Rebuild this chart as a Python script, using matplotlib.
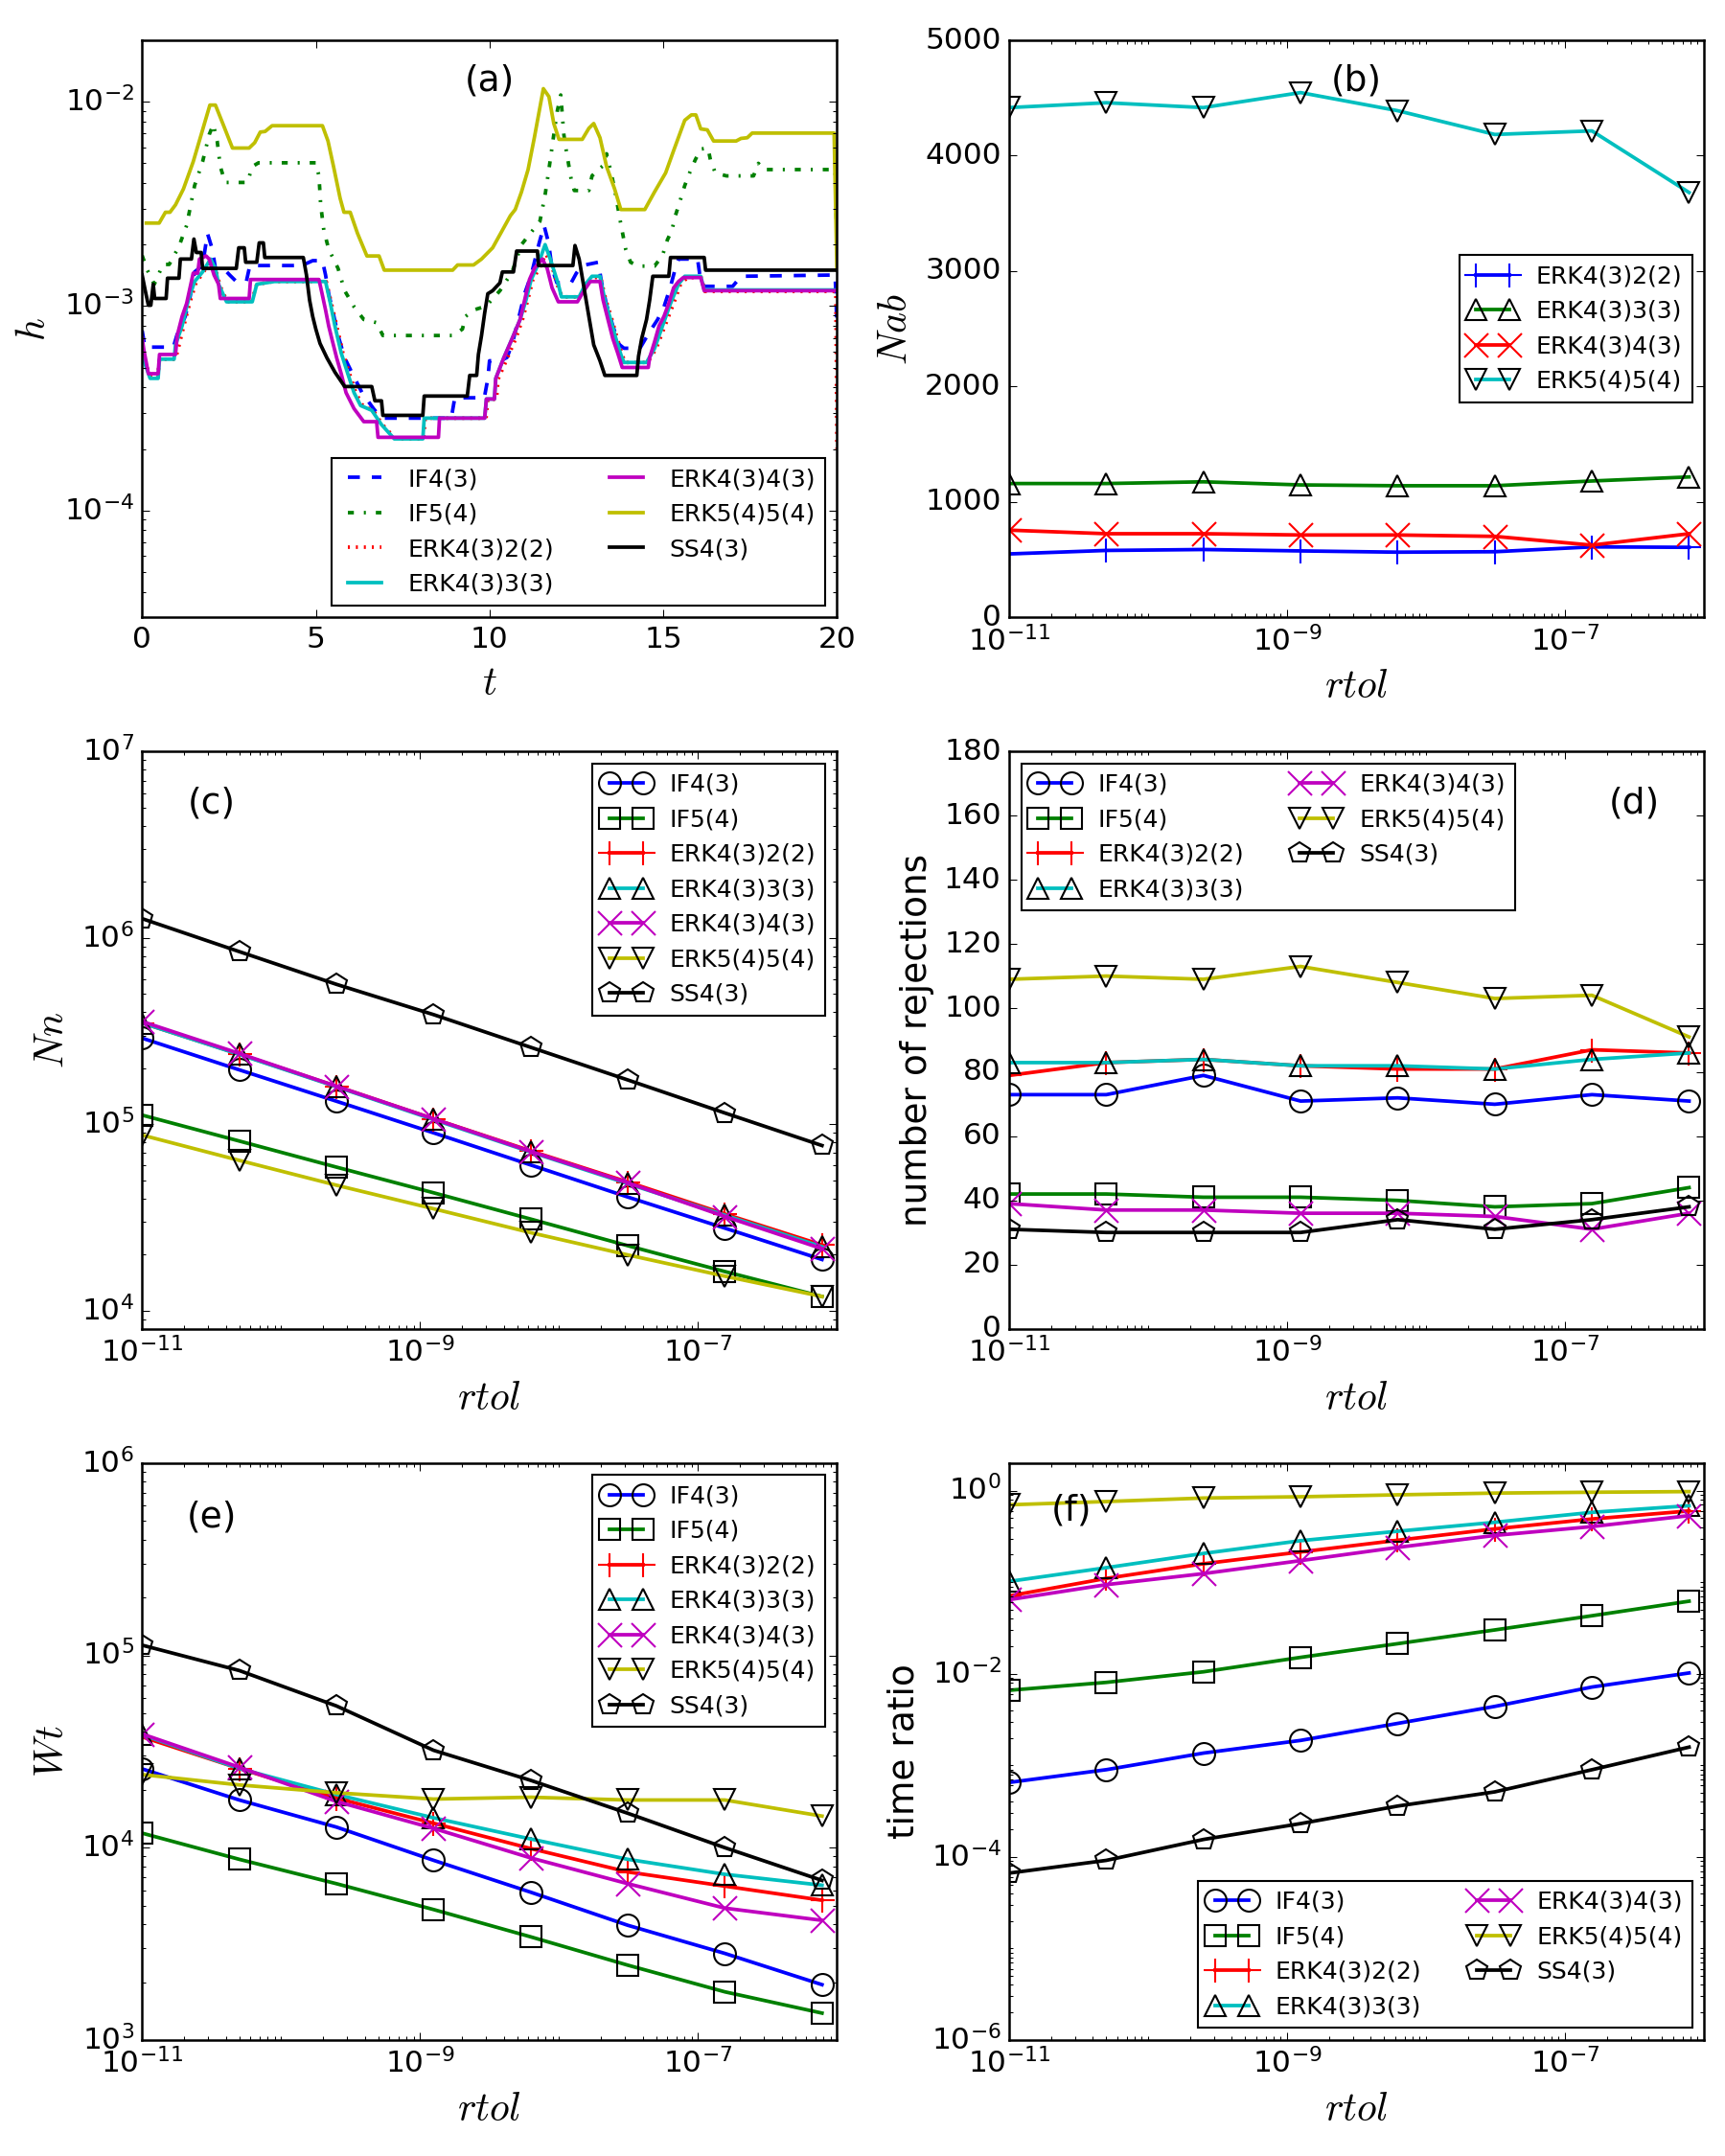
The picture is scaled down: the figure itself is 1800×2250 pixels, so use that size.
import numpy as np
import matplotlib
matplotlib.use('Agg')
import matplotlib.pyplot as plt
from matplotlib.ticker import LogLocator, FixedLocator, NullFormatter

plt.style.use('classic')
plt.rcParams['figure.facecolor'] = 'white'
plt.rcParams['savefig.facecolor'] = 'white'
plt.rcParams['font.family'] = ['DejaVu Sans']
plt.rcParams['mathtext.fontset'] = 'cm'

# ---- panel (a): step size history h(t) ----
a_if4 = [(0.0, 7.6e-4), (0.08, 6.3e-4), (0.9, 6.3e-4), (1.0, 7.2e-4), (1.24, 8.9e-4), (1.38, 1.11e-3),
         (1.51, 1.47e-3), (1.74, 1.58e-3), (1.88, 2.27e-3), (2.02, 1.90e-3), (2.11, 1.53e-3), (2.34, 1.53e-3),
         (2.52, 1.42e-3), (2.71, 1.32e-3), (3.0, 1.32e-3), (3.1, 1.58e-3), (4.6, 1.58e-3), (4.91, 1.67e-3),
         (5.19, 1.67e-3), (5.28, 1.42e-3), (5.37, 1.15e-3), (5.5, 9.25e-4), (5.64, 7.18e-4), (5.83, 5.58e-4),
         (6.1, 4.5e-4), (6.33, 3.77e-4), (6.66, 3.15e-4), (6.89, 2.83e-4), (8.9, 2.83e-4), (9.0, 3.56e-4),
         (9.85, 3.56e-4), (9.95, 4.4e-4), (10.0, 5.4e-4), (10.3, 5.4e-4), (10.5, 5.6e-4), (10.65, 6.5e-4),
         (10.83, 8.6e-4), (11.01, 1.15e-3), (11.2, 1.42e-3), (11.43, 2.04e-3), (11.57, 2.48e-3), (11.7, 2.04e-3),
         (11.8, 1.53e-3), (11.94, 1.3e-3), (12.35, 1.3e-3), (12.5, 1.45e-3), (12.67, 1.58e-3), (13.13, 1.64e-3),
         (13.22, 1.32e-3), (13.36, 1.03e-3), (13.55, 8.0e-4), (13.73, 6.5e-4), (13.87, 6.22e-4), (14.33, 6.22e-4),
         (14.6, 7.45e-4), (14.84, 8.6e-4), (15.02, 9.9e-4), (15.2, 1.23e-3), (15.35, 1.53e-3), (15.44, 1.7e-3),
         (15.99, 1.7e-3), (16.08, 1.32e-3), (16.18, 1.25e-3), (17.0, 1.25e-3), (17.24, 1.40e-3), (19.95, 1.42e-3),
         (20.0, 8e-4)]
a_if5 = [(0.0, 1.77e-3), (0.15, 1.5e-3), (0.35, 1.28e-3), (0.6, 1.60e-3), (0.78, 1.60e-3), (1.06, 1.96e-3),
         (1.28, 2.48e-3), (1.51, 3.89e-3), (1.74, 5.09e-3), (1.93, 6.91e-3), (2.05, 7.75e-3), (2.16, 6.43e-3),
         (2.25, 4.82e-3), (2.39, 4.03e-3), (3.03, 4.03e-3), (3.17, 4.82e-3), (3.35, 5.03e-3), (5.0, 5.03e-3),
         (5.09, 4.34e-3), (5.14, 3.13e-3), (5.23, 2.35e-3), (5.37, 1.90e-3), (5.64, 1.53e-3), (5.83, 1.19e-3),
         (6.1, 9.93e-4), (6.38, 8.6e-4), (6.75, 8.3e-4), (6.93, 7.18e-4), (8.95, 7.18e-4), (9.22, 7.72e-4),
         (9.31, 8.9e-4), (9.54, 9.57e-4), (9.9, 1.0e-3), (10.3, 1.19e-3), (10.65, 1.47e-3), (10.92, 2.0e-3),
         (11.2, 2.3e-3), (11.45, 2.6e-3), (11.6, 3.5e-3), (11.72, 4.8e-3), (11.85, 6.9e-3), (11.95, 9.0e-3),
         (12.05, 1.08e-2), (12.14, 6.91e-3), (12.21, 5.77e-3), (12.35, 4.18e-3), (12.44, 3.68e-3), (12.86, 3.68e-3),
         (12.95, 4.34e-3), (13.15, 4.69e-3), (13.3, 4.91e-3), (13.37, 5.57e-3), (13.5, 4.5e-3), (13.6, 3.75e-3),
         (13.78, 2.52e-3), (13.92, 1.90e-3), (14.06, 1.64e-3), (14.29, 1.57e-3), (14.75, 1.57e-3), (14.98, 1.77e-3),
         (15.12, 2.11e-3), (15.25, 2.35e-3), (15.35, 2.77e-3), (15.48, 3.25e-3), (15.62, 3.89e-3), (15.76, 4.49e-3),
         (15.92, 5.19e-3), (16.08, 5.87e-3), (16.29, 5.94e-3), (16.36, 5.19e-3), (16.5, 4.49e-3), (16.82, 4.34e-3),
         (17.6, 4.34e-3), (17.74, 5.0e-3), (17.88, 4.66e-3), (19.95, 4.66e-3), (20.0, 2.0e-3)]
a_erk22 = [(0.0, 6.5e-4), (0.1, 5.2e-4), (0.25, 4.5e-4), (0.45, 4.5e-4), (0.5, 5.5e-4), (0.96, 5.5e-4),
           (1.05, 6.3e-4), (1.2, 8.0e-4), (1.38, 1.05e-3), (1.55, 1.3e-3), (1.75, 1.45e-3), (1.95, 1.65e-3),
           (2.12, 1.5e-3), (2.25, 1.25e-3), (2.45, 1.05e-3), (3.15, 1.05e-3), (3.3, 1.28e-3), (3.8, 1.32e-3),
           (5.3, 1.32e-3), (5.45, 1.03e-3), (5.6, 8e-4), (5.78, 5.9e-4), (5.97, 4.67e-4), (6.15, 3.77e-4),
           (6.35, 3.26e-4), (6.65, 3.09e-4), (6.92, 2.63e-4), (7.3, 2.24e-4), (8.1, 2.24e-4), (8.15, 2.83e-4),
           (9.9, 2.83e-4), (9.95, 3.5e-4), (10.2, 3.5e-4), (10.25, 4.4e-4), (10.5, 5.5e-4), (10.75, 6.9e-4),
           (10.95, 8.6e-4), (11.1, 1.07e-3), (11.25, 1.35e-3), (11.45, 1.55e-3), (11.62, 1.8e-3), (11.78, 1.6e-3),
           (12.0, 1.2e-3), (12.1, 1.11e-3), (12.6, 1.11e-3), (12.8, 1.28e-3), (12.95, 1.38e-3), (13.2, 1.38e-3),
           (13.35, 1.07e-3), (13.5, 8.9e-4), (13.68, 6.93e-4), (13.82, 5.8e-4), (13.9, 5.3e-4), (14.55, 5.3e-4),
           (14.8, 6.2e-4), (15.05, 8e-4), (15.3, 1.03e-3), (15.5, 1.28e-3), (15.7, 1.38e-3), (16.1, 1.38e-3),
           (16.2, 1.18e-3), (19.97, 1.18e-3), (20.0, 2.0e-4)]
a_erk33 = [(0.0, 6.0e-4), (0.05, 5.4e-4), (0.23, 4.43e-4), (0.46, 4.43e-4), (0.5, 5.5e-4), (0.92, 5.5e-4),
           (0.96, 6.46e-4), (1.15, 8.0e-4), (1.33, 1.07e-3), (1.51, 1.32e-3), (1.74, 1.47e-3), (1.97, 1.7e-3),
           (2.11, 1.53e-3), (2.2, 1.28e-3), (2.43, 1.05e-3), (3.17, 1.05e-3), (3.3, 1.28e-3), (3.81, 1.32e-3),
           (5.28, 1.32e-3), (5.42, 1.03e-3), (5.55, 8.0e-4), (5.73, 5.9e-4), (5.92, 4.67e-4), (6.1, 3.77e-4),
           (6.29, 3.26e-4), (6.61, 3.09e-4), (6.89, 2.63e-4), (7.26, 2.24e-4), (8.08, 2.24e-4), (8.12, 2.83e-4),
           (9.86, 2.83e-4), (9.91, 3.51e-4), (10.14, 3.51e-4), (10.18, 4.43e-4), (10.41, 5.58e-4), (10.65, 6.93e-4),
           (10.88, 8.6e-4), (11.05, 1.07e-3), (11.2, 1.35e-3), (11.4, 1.6e-3), (11.6, 2.0e-3), (11.75, 1.7e-3),
           (11.98, 1.28e-3), (12.07, 1.11e-3), (12.58, 1.11e-3), (12.76, 1.28e-3), (12.95, 1.40e-3), (13.18, 1.40e-3),
           (13.32, 1.07e-3), (13.46, 8.9e-4), (13.64, 6.93e-4), (13.78, 5.8e-4), (13.87, 5.3e-4), (14.52, 5.3e-4),
           (14.75, 6.2e-4), (14.98, 8.0e-4), (15.21, 1.03e-3), (15.44, 1.28e-3), (15.62, 1.40e-3), (16.08, 1.40e-3),
           (16.18, 1.2e-3), (20.0, 1.2e-3)]
a_erk43 = [(0.0, 7.0e-4), (0.05, 6.1e-4), (0.18, 4.67e-4), (0.46, 4.67e-4), (0.5, 5.8e-4), (0.96, 5.8e-4),
           (1.01, 7.18e-4), (1.15, 8.9e-4), (1.28, 1.03e-3), (1.47, 1.45e-3), (1.6, 1.45e-3), (1.65, 1.7e-3),
           (1.84, 1.76e-3), (1.93, 1.7e-3), (2.07, 1.42e-3), (2.2, 1.28e-3), (2.25, 1.09e-3), (3.08, 1.09e-3),
           (3.12, 1.35e-3), (5.09, 1.35e-3), (5.18, 1.15e-3), (5.28, 9.57e-4), (5.37, 8.0e-4), (5.46, 6.93e-4),
           (5.6, 5.58e-4), (5.73, 4.67e-4), (5.87, 3.77e-4), (6.1, 3.15e-4), (6.38, 2.72e-4), (6.75, 2.72e-4),
           (6.79, 2.28e-4), (8.53, 2.28e-4), (8.56, 2.83e-4), (9.86, 2.83e-4), (9.91, 3.51e-4), (10.14, 3.51e-4),
           (10.18, 4.43e-4), (10.41, 5.58e-4), (10.65, 6.93e-4), (10.88, 8.6e-4), (11.01, 1.07e-3), (11.15, 1.35e-3),
           (11.29, 1.53e-3), (11.52, 1.7e-3), (11.66, 1.53e-3), (11.8, 1.23e-3), (11.98, 1.05e-3), (12.53, 1.05e-3),
           (12.72, 1.19e-3), (12.9, 1.32e-3), (13.18, 1.32e-3), (13.27, 1.07e-3), (13.41, 8.6e-4), (13.55, 6.93e-4),
           (13.69, 5.9e-4), (13.82, 5.01e-4), (14.57, 5.01e-4), (14.61, 5.6e-4), (14.75, 6.68e-4), (14.88, 8.0e-4),
           (15.02, 8.9e-4), (15.16, 1.03e-3), (15.3, 1.23e-3), (15.44, 1.32e-3), (15.58, 1.38e-3), (16.08, 1.38e-3),
           (16.18, 1.19e-3), (20.0, 1.19e-3)]
a_erk54 = [(0.12, 2.55e-3), (0.49, 2.55e-3), (0.67, 2.88e-3), (0.80, 2.88e-3), (0.96, 3.13e-3), (1.19, 3.75e-3),
           (1.47, 5.09e-3), (1.70, 6.91e-3), (1.95, 9.64e-3), (2.11, 9.64e-3), (2.34, 7.69e-3), (2.60, 5.94e-3),
           (3.08, 5.94e-3), (3.24, 6.31e-3), (3.40, 7.11e-3), (3.54, 7.16e-3), (3.74, 7.64e-3), (5.19, 7.64e-3),
           (5.35, 6.43e-3), (5.51, 4.82e-3), (5.70, 3.37e-3), (5.81, 2.88e-3), (5.99, 2.88e-3), (6.20, 2.27e-3),
           (6.47, 1.76e-3), (6.82, 1.76e-3), (6.97, 1.50e-3), (8.94, 1.50e-3), (9.08, 1.59e-3), (9.54, 1.59e-3),
           (9.77, 1.70e-3), (10.09, 1.93e-3), (10.32, 2.27e-3), (10.6, 2.77e-3), (10.74, 2.97e-3), (10.92, 3.62e-3),
           (11.11, 4.66e-3), (11.29, 6.67e-3), (11.55, 1.16e-2), (11.71, 1.06e-2), (11.85, 7.83e-3), (12.0, 6.55e-3),
           (12.67, 6.55e-3), (12.86, 7.42e-3), (13.0, 7.83e-3), (13.18, 6.67e-3), (13.37, 4.82e-3), (13.6, 3.75e-3),
           (13.78, 2.97e-3), (14.47, 2.97e-3), (14.75, 3.62e-3), (15.07, 4.49e-3), (15.3, 5.77e-3), (15.62, 8.12e-3),
           (15.81, 8.63e-3), (15.94, 8.63e-3), (16.08, 7.37e-3), (16.27, 7.29e-3), (16.45, 6.43e-3), (17.1, 6.43e-3),
           (17.24, 6.62e-3), (17.42, 6.67e-3), (17.56, 7.03e-3), (19.92, 7.03e-3), (20.0, 1.5e-3)]
a_ss4 = [(0.0, 1.42e-3), (0.09, 1.19e-3), (0.18, 1.01e-3), (0.25, 1.01e-3), (0.32, 1.28e-3), (0.36, 1.09e-3),
         (0.69, 1.09e-3), (0.73, 1.37e-3), (1.06, 1.37e-3), (1.1, 1.70e-3), (1.42, 1.70e-3), (1.49, 2.13e-3),
         (1.56, 1.83e-3), (1.70, 1.83e-3), (1.74, 1.53e-3), (2.71, 1.53e-3), (2.78, 1.93e-3), (2.94, 1.93e-3),
         (2.98, 1.64e-3), (3.3, 1.64e-3), (3.37, 2.04e-3), (3.49, 2.04e-3), (3.53, 1.73e-3), (4.64, 1.73e-3),
         (4.73, 1.42e-3), (4.82, 1.07e-3), (4.91, 8.9e-4), (5.0, 7.72e-4), (5.12, 6.57e-4), (5.32, 5.58e-4),
         (5.55, 4.75e-4), (5.83, 4.04e-4), (6.61, 4.04e-4), (6.7, 3.44e-4), (6.89, 3.44e-4), (6.93, 2.92e-4),
         (8.08, 2.92e-4), (8.12, 3.63e-4), (9.36, 3.63e-4), (9.43, 4.58e-4), (9.63, 4.58e-4), (9.68, 5.8e-4),
         (9.77, 7.18e-4), (9.86, 9.25e-4), (9.95, 1.15e-3), (10.09, 1.19e-3), (10.3, 1.3e-3), (10.37, 1.47e-3),
         (10.69, 1.47e-3), (10.78, 1.86e-3), (11.38, 1.86e-3), (11.41, 1.58e-3), (12.4, 1.58e-3), (12.46, 1.98e-3),
         (12.58, 1.70e-3), (12.72, 1.23e-3), (12.86, 8.9e-4), (13.0, 6.46e-4), (13.18, 5.4e-4), (13.32, 4.58e-4),
         (14.24, 4.58e-4), (14.29, 5.69e-4), (14.38, 6.93e-4), (14.52, 8.6e-4), (14.61, 1.07e-3), (14.7, 1.40e-3),
         (15.16, 1.40e-3), (15.21, 1.73e-3), (16.18, 1.73e-3), (16.22, 1.50e-3), (20.0, 1.50e-3)]

# ---- panels (b)-(f): versus rtol ----
rtol = [1e-11, 5e-11, 2.5e-10, 1.25e-9, 6.25e-9, 3.125e-8, 1.5625e-7, 7.8125e-7]

methods = ['IF4(3)', 'IF5(4)', 'ERK4(3)2(2)', 'ERK4(3)3(3)', 'ERK4(3)4(3)', 'ERK5(4)5(4)', 'SS4(3)']
colors = ['b', 'g', 'r', 'c', 'm', 'y', 'k']
markers = ['o', 's', '+', '^', 'x', 'v', 'p']

# (b) Nab, only the ERK methods
nab = {
    'ERK4(3)2(2)': [549, 579, 587, 575, 564, 568, 610, 606],
    'ERK4(3)3(3)': [1159, 1159, 1174, 1147, 1140, 1140, 1181, 1216],
    'ERK4(3)4(3)': [755, 724, 724, 713, 713, 701, 625, 724],
    'ERK5(4)5(4)': [4417, 4459, 4417, 4547, 4390, 4184, 4215, 3681],
}
nab_markers = ['+', '^', 'x', 'v']

# (c) Nn
nn = [
    [2.9e5, 1.96e5, 1.33e5, 9.0e4, 6.05e4, 4.07e4, 2.77e4, 1.88e4],
    [1.12e5, 8.13e4, 5.89e4, 4.29e4, 3.1e4, 2.23e4, 1.62e4, 1.19e4],
    [3.5e5, 2.38e5, 1.6e5, 1.07e5, 7.2e4, 4.9e4, 3.3e4, 2.25e4],
    [3.5e5, 2.37e5, 1.59e5, 1.06e5, 7.1e4, 4.8e4, 3.25e4, 2.2e4],
    [3.56e5, 2.4e5, 1.6e5, 1.07e5, 7.15e4, 4.85e4, 3.2e4, 2.15e4],
    [8.75e4, 6.4e4, 4.71e4, 3.52e4, 2.62e4, 1.99e4, 1.53e4, 1.19e4],
    [1.27e6, 8.45e5, 5.64e5, 3.88e5, 2.59e5, 1.73e5, 1.15e5, 7.69e4],
]

# (d) number of rejections
nrej = [
    [73, 73, 79, 71, 72, 70, 73, 71],
    [42, 42, 41, 41, 40, 38, 39, 44],
    [79, 83, 84, 82, 81, 81, 87, 86],
    [83, 83, 84, 82, 82, 81, 84, 86],
    [39, 37, 37, 36, 36, 35, 31, 36],
    [109, 110, 109, 113, 108, 103, 104, 91],
    [31, 30, 30, 30, 34, 31, 34, 38],
]

# (e) Wt
wt = [
    [2.57e4, 1.77e4, 1.28e4, 8.6e3, 5.87e3, 3.95e3, 2.82e3, 1.94e3],
    [1.19e4, 8.7e3, 6.5e3, 4.77e3, 3.44e3, 2.45e3, 1.78e3, 1.38e3],
    [3.77e4, 2.58e4, 1.81e4, 1.34e4, 9.9e3, 7.48e3, 6.31e3, 5.33e3],
    [3.87e4, 2.58e4, 1.89e4, 1.43e4, 1.11e4, 8.7e3, 7.27e3, 6.38e3],
    [3.9e4, 2.62e4, 1.74e4, 1.26e4, 8.85e3, 6.5e3, 4.85e3, 4.19e3],
    [2.4e4, 2.12e4, 1.93e4, 1.79e4, 1.83e4, 1.77e4, 1.77e4, 1.46e4],
    [1.13e5, 8.34e4, 5.46e4, 3.21e4, 2.24e4, 1.51e4, 1.0e4, 6.76e3],
]

# (f) time ratio
tratio = [
    [6.5e-4, 8.96e-4, 1.36e-3, 1.87e-3, 2.87e-3, 4.4e-3, 7.16e-3, 1.02e-2],
    [6.6e-3, 8.05e-3, 1.05e-2, 1.51e-2, 2.13e-2, 3.01e-2, 4.3e-2, 6.2e-2],
    [0.0708, 0.11, 0.159, 0.214, 0.287, 0.382, 0.49, 0.6],
    [0.102, 0.144, 0.206, 0.284, 0.36, 0.451, 0.579, 0.684],
    [0.0644, 0.094, 0.124, 0.172, 0.24, 0.324, 0.405, 0.533],
    [0.70, 0.76, 0.83, 0.857, 0.9, 0.94, 0.96, 0.976],
    [6.65e-5, 9.16e-5, 1.55e-4, 2.31e-4, 3.59e-4, 5.13e-4, 8.95e-4, 1.58e-3],
]

TICK = 15
LAB = 20
LEG = 12
PAN = 18
LW = 1.8

fig, axes = plt.subplots(3, 2, figsize=(12, 15))
fig.subplots_adjust(left=0.0824, right=0.9878, top=0.9813, bottom=0.0538,
                    wspace=0.248, hspace=0.233)


def mk_style(m, c):
    if m in ('+', 'x'):
        return dict(marker=m, mec=c, mfc='none', ms=12, mew=1.0)
    return dict(marker=m, mec='k', mfc='none', ms=11, mew=1.0)


def rtol_axis(ax):
    ax.set_xscale('log')
    ax.set_xlim(1e-11, 1e-6)
    ax.xaxis.set_major_locator(FixedLocator([1e-11, 1e-9, 1e-7]))
    ax.xaxis.set_minor_locator(LogLocator(base=10, subs=np.arange(1, 10) * 1.0, numticks=50))
    ax.xaxis.set_minor_formatter(NullFormatter())
    ax.set_xlabel(r'$rtol$', fontsize=LAB)
    ax.tick_params(labelsize=TICK)


def log_y(ax, lo, hi, majors):
    ax.set_yscale('log')
    ax.set_ylim(lo, hi)
    ax.yaxis.set_major_locator(FixedLocator(majors))
    ax.yaxis.set_minor_locator(LogLocator(base=10, subs=np.arange(1, 10) * 1.0, numticks=50))
    ax.yaxis.set_minor_formatter(NullFormatter())


# (a)
ax = axes[0, 0]
a_data = [a_if4, a_if5, a_erk22, a_erk33, a_erk43, a_erk54, a_ss4]
a_styles = ['--', '-.', ':', '-', '-', '-', '-']
for name, d, c, ls in zip(methods, a_data, colors, a_styles):
    t, h = zip(*d)
    ax.plot(t, h, color=c, ls=ls, lw=LW, label=name)
ax.set_xlim(0, 20)
log_y(ax, 3e-5, 2e-2, [1e-4, 1e-3, 1e-2])
ax.set_xticks([0, 5, 10, 15, 20])
ax.tick_params(labelsize=TICK)
ax.set_xlabel(r'$t$', fontsize=LAB)
ax.set_ylabel(r'$h$', fontsize=LAB)
ax.text(0.5, 0.93, '(a)', transform=ax.transAxes, ha='center', va='center', fontsize=PAN)
ax.legend(loc='lower right', ncol=2, fontsize=LEG)

# (b)
ax = axes[0, 1]
for (name, vals), m, c in zip(nab.items(), nab_markers, ['b', 'g', 'r', 'c']):
    ax.plot(rtol, vals, color=c, lw=LW, label=name, **mk_style(m, c))
rtol_axis(ax)
ax.set_ylim(0, 5000)
ax.set_yticks(np.arange(0, 5001, 1000))
ax.set_ylabel(r'$Nab$', fontsize=LAB)
ax.text(0.5, 0.93, '(b)', transform=ax.transAxes, ha='center', va='center', fontsize=PAN)
ax.legend(loc='center right', fontsize=LEG)

# (c)
ax = axes[1, 0]
for name, vals, m, c in zip(methods, nn, markers, colors):
    ax.plot(rtol, vals, color=c, lw=LW, label=name, **mk_style(m, c))
rtol_axis(ax)
log_y(ax, 8e3, 1e7, [1e4, 1e5, 1e6, 1e7])
ax.set_ylabel(r'$Nn$', fontsize=LAB)
ax.text(0.1, 0.91, '(c)', transform=ax.transAxes, ha='center', va='center', fontsize=PAN)
ax.legend(loc='upper right', fontsize=LEG)

# (d)
ax = axes[1, 1]
for name, vals, m, c in zip(methods, nrej, markers, colors):
    ax.plot(rtol, vals, color=c, lw=LW, label=name, **mk_style(m, c))
rtol_axis(ax)
ax.set_ylim(0, 180)
ax.set_yticks(np.arange(0, 181, 20))
ax.set_ylabel('number of rejections', fontsize=18)
ax.text(0.9, 0.91, '(d)', transform=ax.transAxes, ha='center', va='center', fontsize=PAN)
ax.legend(loc='upper left', ncol=2, fontsize=LEG)

# (e)
ax = axes[2, 0]
for name, vals, m, c in zip(methods, wt, markers, colors):
    ax.plot(rtol, vals, color=c, lw=LW, label=name, **mk_style(m, c))
rtol_axis(ax)
log_y(ax, 1e3, 1e6, [1e3, 1e4, 1e5, 1e6])
ax.set_ylabel(r'$Wt$', fontsize=LAB)
ax.text(0.1, 0.906, '(e)', transform=ax.transAxes, ha='center', va='center', fontsize=PAN)
ax.legend(loc='upper right', fontsize=LEG)

# (f)
ax = axes[2, 1]
for name, vals, m, c in zip(methods, tratio, markers, colors):
    ax.plot(rtol, vals, color=c, lw=LW, label=name, **mk_style(m, c))
rtol_axis(ax)
log_y(ax, 1e-6, 2, [1e-6, 1e-4, 1e-2, 1e0])
ax.set_ylabel('time ratio', fontsize=18)
ax.text(0.09, 0.917, '(f)', transform=ax.transAxes, ha='center', va='center', fontsize=PAN)
ax.legend(loc='lower right', ncol=2, fontsize=LEG)

for ax in axes.flat:
    for sp in ax.spines.values():
        sp.set_linewidth(1.2)

fig.savefig('out.png', dpi=150)
